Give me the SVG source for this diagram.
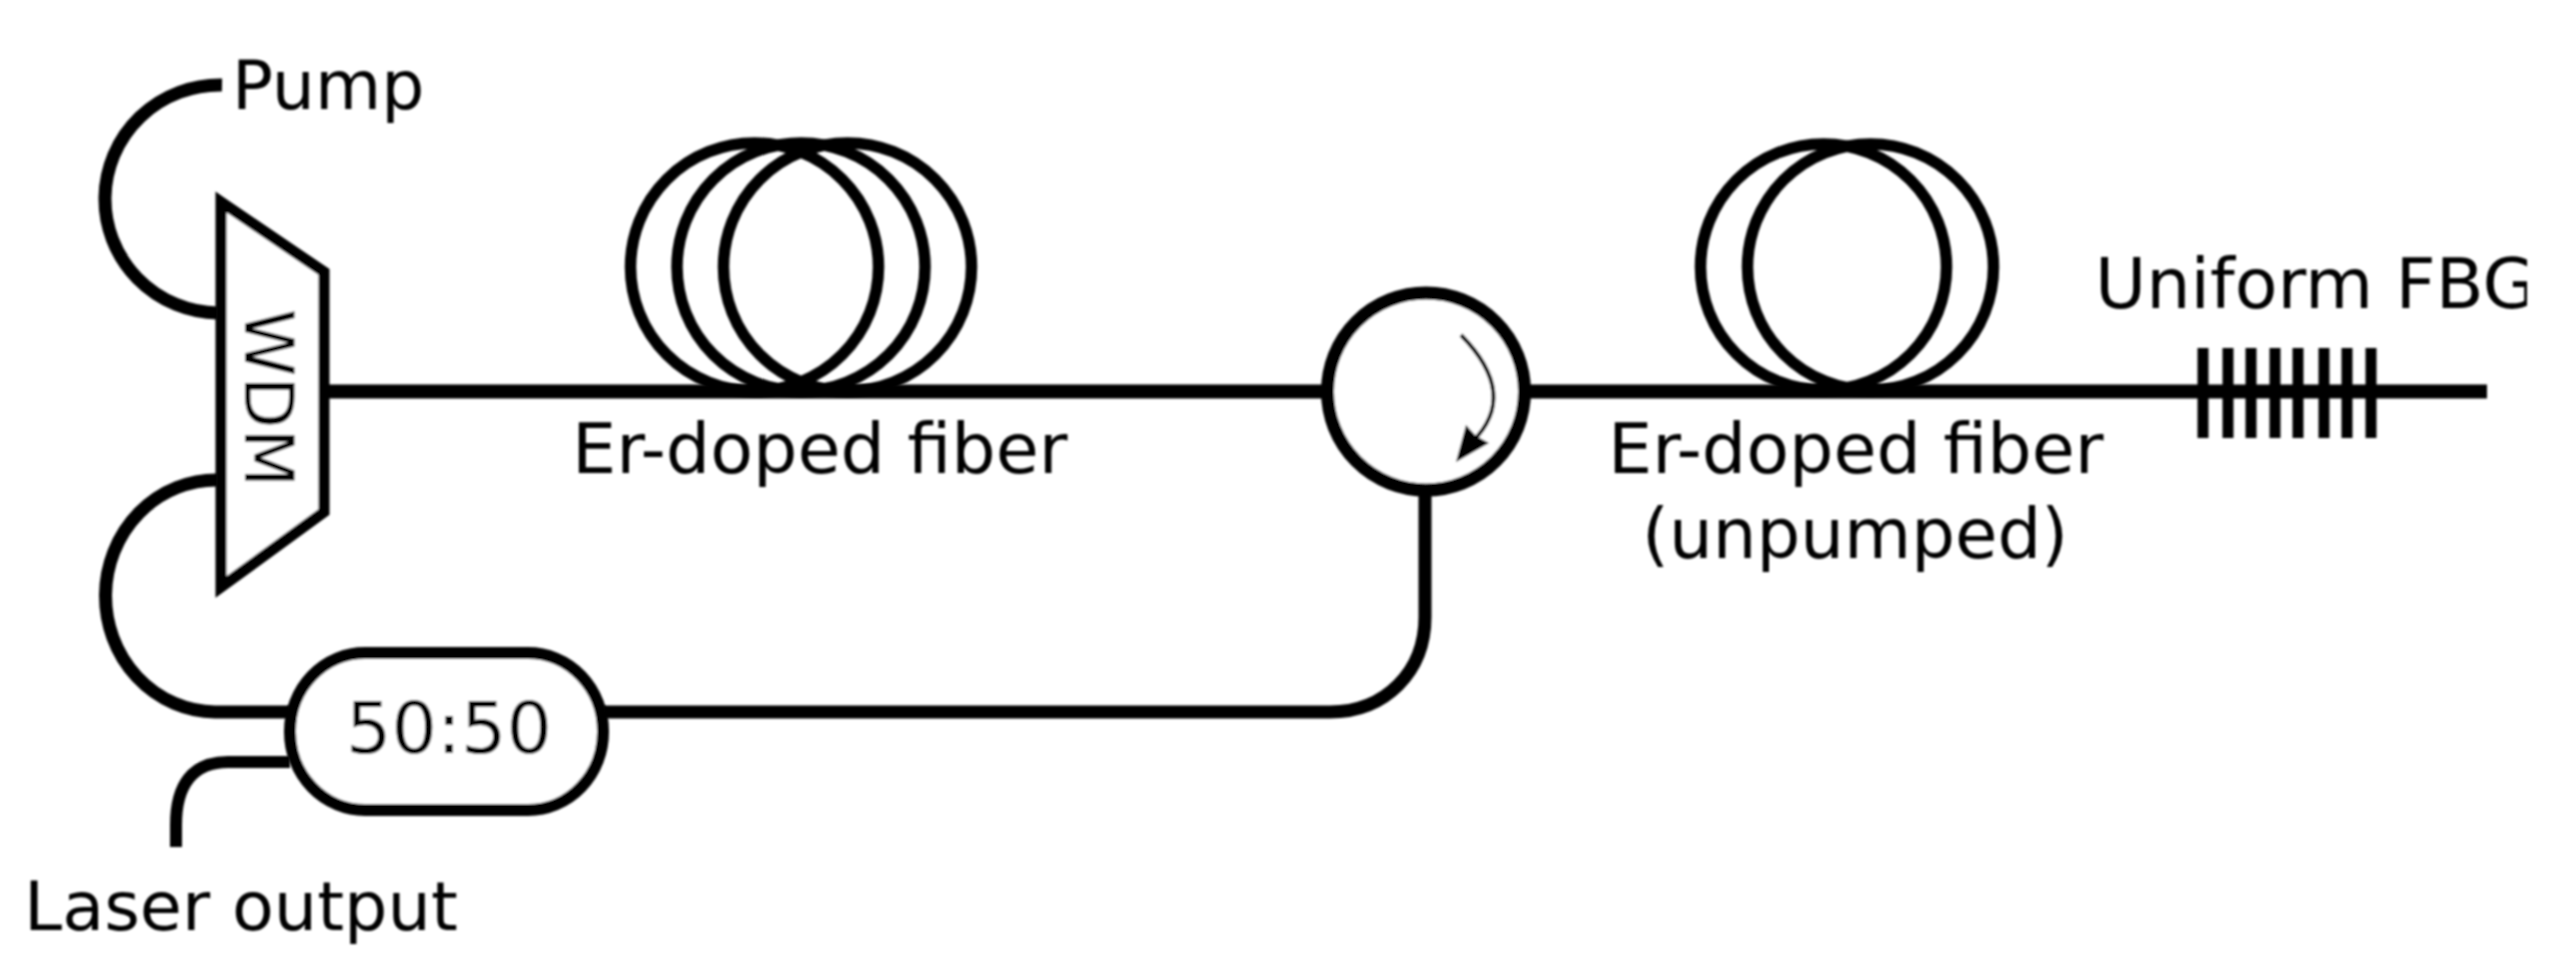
<svg xmlns="http://www.w3.org/2000/svg" width="2549" height="969" viewBox="0 0 2549 969">
<style>
g{filter:url(#soft)}
.f{fill:none;stroke:#000;stroke-width:13}
.n{fill:#fff;stroke:#000;stroke-width:12}
.c{fill:none;stroke:#000;stroke-width:11.5}
.t{fill:#000;font-family:"DejaVu Sans","Liberation Sans",sans-serif;font-size:70px}
</style>
<defs>
<clipPath id="pageclip"><rect x="0" y="0" width="2527" height="969"/></clipPath>
<filter id="soft" filterUnits="userSpaceOnUse" x="0" y="0" width="2549" height="969"><feGaussianBlur stdDeviation="0.9"/></filter>
</defs>
<rect width="2549" height="969" fill="#fff"/>
<g id="connectors">
<path class="f" d="M222 85A115 114 0 0 0 218 313"/>
<path class="f" d="M218 480A111 116 0 0 0 215 712H290"/>
<path class="f" style="stroke-width:12" d="M290 762H228C192 762 176 785 176 825V847"/>
<path class="f" d="M603 712H1330C1385 712 1425 672 1425 617V490"/>
<path class="f" style="stroke-width:14" d="M324 391.5H1327M1525 391.5H2487"/>
</g>
<g id="wdm">
<polygon class="n" style="stroke-width:11" points="221,202 324,272 324,512 221,587"/>
<text class="t" transform="translate(245 309) rotate(90)" style="font-size:68px">WDM</text>
</g>
<g id="coupler">
<rect class="n" x="290" y="653" width="313" height="157" rx="75" ry="78"/>
<text class="t" x="346" y="753" style="font-size:71.5px">50:50</text>
</g>
<g id="circulator">
<circle class="n" cx="1426" cy="391.5" r="98.5" style="stroke-width:13"/>
<path fill="none" stroke="#000" stroke-width="4" d="M1461 335Q1520 395 1472 442"/>
<polygon points="1466,425 1476,436 1489,443 1456,462"/>
</g>
<g id="coil1">
<circle class="c" cx="754.5" cy="267" r="124"/>
<circle class="c" cx="801" cy="267" r="124"/>
<circle class="c" cx="847.5" cy="267" r="124"/>
</g>
<g id="coil2">
<circle class="c" cx="1823.5" cy="267" r="123"/>
<circle class="c" cx="1870.5" cy="267" r="123"/>
</g>
<g id="fbg" stroke="#000" stroke-width="11">
<path d="M2203 348V438M2228 348V438M2251 348V438M2275 348V438M2298 348V438M2324 348V438M2347 348V438M2371 348V438"/>
</g>
<g id="labels">
<text class="t" x="232" y="109" style="font-size:68px">Pump</text>
<text class="t" x="572" y="473">Er-doped fiber</text>
<text class="t" x="1608" y="473">Er-doped fiber</text>
<text class="t" x="1642" y="558" style="font-size:69px">(unpumped)</text>
<text class="t" x="2095" y="308" clip-path="url(#pageclip)">Uniform FBG</text>
<text class="t" x="24" y="930" style="font-size:68.5px">Laser output</text>
</g>
</svg>
